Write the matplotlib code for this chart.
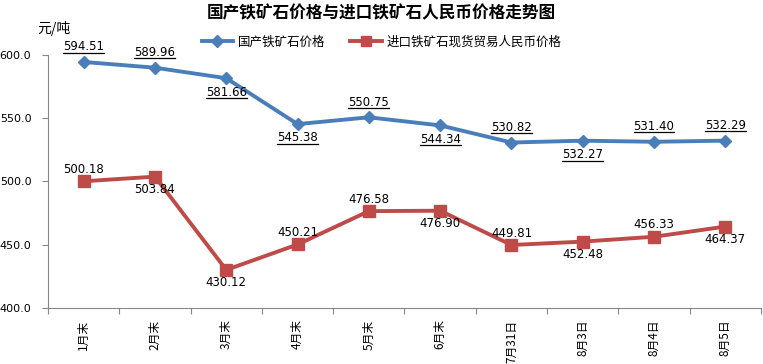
import matplotlib
matplotlib.use("Agg")
import matplotlib.pyplot as plt
from matplotlib.lines import Line2D

plt.rcParams['font.family'] = ['Noto Sans CJK SC', 'DejaVu Sans']

categories = ["1月末", "2月末", "3月末", "4月末", "5月末", "6月末", "7月31日", "8月3日", "8月4日", "8月5日"]
domestic = [594.51, 589.96, 581.66, 545.38, 550.75, 544.34, 530.82, 532.27, 531.40, 532.29]
imported = [500.18, 503.84, 430.12, 450.21, 476.58, 476.90, 449.81, 452.48, 456.33, 464.37]
dom_pos = ["a", "a", "b", "b", "a", "b", "a", "b", "a", "a"]
imp_pos = ["a", "b", "b", "a", "a", "b", "a", "b", "a", "b"]
yticks = [400.0, 450.0, 500.0, 550.0, 600.0]

title = "国产铁矿石价格与进口铁矿石人民币价格走势图"
name_dom = "国产铁矿石价格"
name_imp = "进口铁矿石现货贸易人民币价格"
unit = "元/吨"

blue = "#4A7EBB"
red = "#BE4B48"
axc = "#868686"

fig = plt.figure(figsize=(7.63, 3.64), dpi=100)
ax = fig.add_axes([48/763, 1-308/364, 713/763, 253/364])

x = list(range(len(categories)))
ax.plot(x, domestic, color=blue, lw=2.8, marker="D", ms=6, mfc=blue, mec=blue, zorder=3)
ax.plot(x, imported, color=red, lw=2.8, marker="s", ms=8, mfc=red, mec=red, zorder=3)

dom_anns = []
for xi, v, p in zip(x, domestic, dom_pos):
    off = 11 if p == "a" else -10
    a = ax.annotate(f"{v:.2f}", (xi, v), xytext=(0, off), textcoords="offset points",
                    ha="center", va="center", fontsize=8.5, color="black",
                    family=["DejaVu Sans"])
    dom_anns.append(a)
for xi, v, p in zip(x, imported, imp_pos):
    off = 8.5 if p == "a" else -9
    ax.annotate(f"{v:.2f}", (xi, v), xytext=(0, off), textcoords="offset points",
                ha="center", va="center", fontsize=8.5, color="black",
                family=["DejaVu Sans"])

ax.set_xlim(-0.5, len(categories) - 0.5)
ax.set_ylim(400, 600)
ax.set_yticks(yticks)
ax.set_yticklabels([f"{t:.1f}" for t in yticks], fontsize=8, family=["DejaVu Sans"])
ax.set_xticks([i - 0.5 for i in range(len(categories) + 1)])
ax.set_xticklabels([])
for i, c in enumerate(categories):
    ax.text(i, -0.045, c, transform=ax.get_xaxis_transform(), rotation=90,
            ha="center", va="top", fontsize=8.5)
for s in ["top", "right"]:
    ax.spines[s].set_visible(False)
for s in ["left", "bottom"]:
    ax.spines[s].set_color(axc)
ax.tick_params(axis="both", color=axc, length=4, direction="out")
ax.tick_params(axis="y", pad=8)

fig.canvas.draw()
renderer = fig.canvas.get_renderer()
inv = fig.transFigure.inverted()
for ann in dom_anns:
    bb = ann.get_window_extent(renderer)
    (x0, y0), (x1, y1) = inv.transform([[bb.x0, bb.y0], [bb.x1, bb.y1]])
    fig.add_artist(Line2D([x0, x1], [y0 + 0.0015, y0 + 0.0015], color="black",
                          lw=0.9, transform=fig.transFigure))

fig.text(0.5, 1-13/364, title, ha="center", va="center", fontsize=12, fontweight="bold")
fig.text(37/763, 1-28/364, unit, ha="left", va="center", fontsize=10)

handles = [Line2D([], [], color=blue, lw=2.8, marker="D", ms=6),
           Line2D([], [], color=red, lw=2.8, marker="s", ms=7)]
fig.legend(handles, [name_dom, name_imp], loc="center", bbox_to_anchor=(0.5, 1-42/364),
           ncol=2, frameon=False, fontsize=9, handlelength=2.5, columnspacing=2.0,
           handletextpad=0.4)

fig.savefig("out.png", dpi=100)
